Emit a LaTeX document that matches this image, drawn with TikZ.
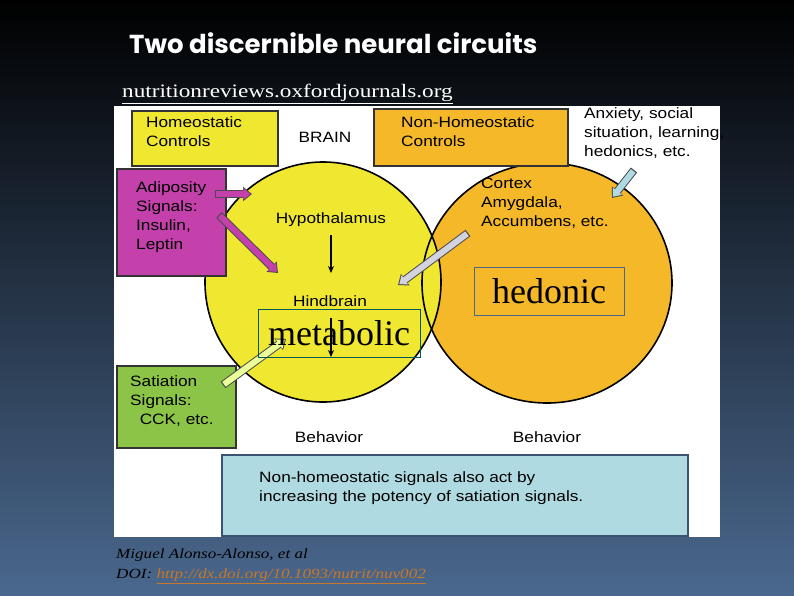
\documentclass[tikz,border=0pt]{standalone}
\usepackage{fontspec}
\setmainfont{Liberation Serif}
\setsansfont{Liberation Sans}
\newfontfamily\titlefont{Poppins}
\newfontfamily\diag[FakeStretch=1.15]{Liberation Sans}
\newfontfamily\wideserif[FakeStretch=1.22]{Liberation Serif}
\usetikzlibrary{arrows.meta}
\definecolor{ylw}{RGB}{240,232,48}
\definecolor{org}{RGB}{244,184,40}
\definecolor{mag}{RGB}{196,64,170}
\definecolor{grn}{RGB}{140,196,72}
\definecolor{lblue}{RGB}{176,218,226}
\definecolor{slate}{RGB}{74,104,142}
\definecolor{lnk}{RGB}{200,120,40}
\tikzset{
  lbl/.style={font=\diag\fontsize{15}{19}\selectfont, align=left, inner sep=0pt, anchor=north west},
  clbl/.style={font=\diag\fontsize{15}{19}\selectfont, inner sep=0pt},
  bx/.style={draw=black!80, line width=1.5pt},
  fat/.style={line width=6pt, -{Triangle[length=7pt,width=11pt]}, shorten <=1.2pt, shorten >=1.6pt},
  thin/.style={line width=1.3pt, black, -{Stealth[length=7pt,width=6pt]}},
  big/.style={font=\fontsize{36}{36}\selectfont, inner sep=0pt}
}
\begin{document}
\begin{tikzpicture}[x=1pt,y=-1pt]
\shade[top color=black, middle color=black, bottom color=slate] (0,0) rectangle (794,595);
\useasboundingbox (0,0) rectangle (794,595);
\node[text=white, anchor=west, inner sep=0pt, font=\titlefont\bfseries\fontsize{26}{26}\selectfont] (title) at (129,43) {Two discernible neural circuits};
\node[text=white, anchor=west, font=\wideserif\fontsize{19}{19}\selectfont, inner sep=0pt] (src) at (122,94) {\underline{nutritionreviews.oxfordjournals.org}};
\fill[white] (114,106) rectangle (720,537);
% circles
\fill[org] (547,283) ellipse [x radius=125, y radius=120];
\fill[ylw] (323,282) ellipse [x radius=118, y radius=120];
\draw[line width=1.6pt] (547,283) ellipse [x radius=125, y radius=120];
\draw[line width=1.6pt] (323,282) ellipse [x radius=118, y radius=120];
% boxes
\node[bx, fill=ylw, minimum width=146, minimum height=55, anchor=north west] (homeo) at (131,110) {};
\node[lbl] at (146,116) {Homeostatic\\Controls};
\node[clbl] (brain) at (325,137) {BRAIN};
\node[bx, fill=org, minimum width=194, minimum height=57, anchor=north west] (nonhomeo) at (373,108) {};
\node[lbl] at (401,116) {Non-Homeostatic\\Controls};
\node[lbl] (anx) at (584,107) {Anxiety, social\\situation, learning,\\hedonics, etc.};
\node[bx, fill=mag, minimum width=109, minimum height=107, anchor=north west] (adip) at (116,168) {};
\node[lbl] at (136,181) {Adiposity\\Signals:\\Insulin,\\Leptin};
\node[bx, fill=grn, minimum width=119, minimum height=82, anchor=north west] (sat) at (116,365) {};
\node[lbl] at (130,375) {Satiation\\Signals:\\\ \ CCK, etc.};
\node[lbl] (cortex) at (481,178) {Cortex\\Amygdala,\\Accumbens, etc.};
\node[clbl] (hypo) at (331,220) {Hypothalamus};
\node[clbl] (hind) at (330,301) {Hindbrain};
\node[clbl] (beh1) at (329,437) {Behavior};
\node[clbl] (beh2) at (547,437) {Behavior};
\node[draw=slate!80!black, line width=2.4pt, fill=lblue, minimum width=466, minimum height=81, anchor=north west] (note) at (221,454) {};
\node[lbl] at (259,471) {Non-homeostatic signals also act by\\increasing the potency of satiation signals.};
% thin arrows
\coordinate (h1) at (331,235); \coordinate (h2) at (331,273);
\draw[thin] (h1) -- (h2);
\coordinate (h3) at (331,318); \coordinate (h4) at (331,357);
% fat arrows
\coordinate (a1) at (215,194); \coordinate (a2) at (252,194);
\coordinate (b1) at (219,215); \coordinate (b2) at (278,273);
\coordinate (c1) at (468,233); \coordinate (c2) at (398,285);
\coordinate (d1) at (634,170); \coordinate (d2) at (612,198);
\coordinate (e1) at (223,385); \coordinate (e2) at (286,339);
\foreach \s/\t/\c in {a1/a2/mag, b1/b2/mag, c1/c2/blue!15!gray!30, d1/d2/lblue, e1/e2/green!20!yellow!40} {
  \draw[line width=8pt, black!70, -{Triangle[length=9pt,width=14pt]}] (\s) -- (\t);
  \draw[fat, \c] (\s) -- (\t);
}
% labels
\node[draw=teal!70!black, line width=0.6pt, minimum width=162, minimum height=48, anchor=north west, inner sep=0pt] (metab) at (258,309) {};
\node[big] at (339,333) {metabolic};
\draw[thin] (h3) -- (h4);
\node[draw=slate, line width=0.6pt, fill=org, minimum width=150, minimum height=48, anchor=north west, inner sep=0pt] (hed) at (474,267) {};
\node[big] at (549,291) {hedonic};
% credits
\node[anchor=west, inner sep=0pt, font=\wideserif\itshape\fontsize{14}{14}\selectfont, text=black] (auth) at (116,555) {Miguel Alonso-Alonso, et al};
\node[anchor=west, inner sep=0pt, font=\wideserif\itshape\fontsize{14}{14}\selectfont, text=black] (doi) at (116,576) {DOI: \textcolor{lnk}{\underline{http://dx.doi.org/10.1093/nutrit/nuv002}}};
\end{tikzpicture}
\end{document}
